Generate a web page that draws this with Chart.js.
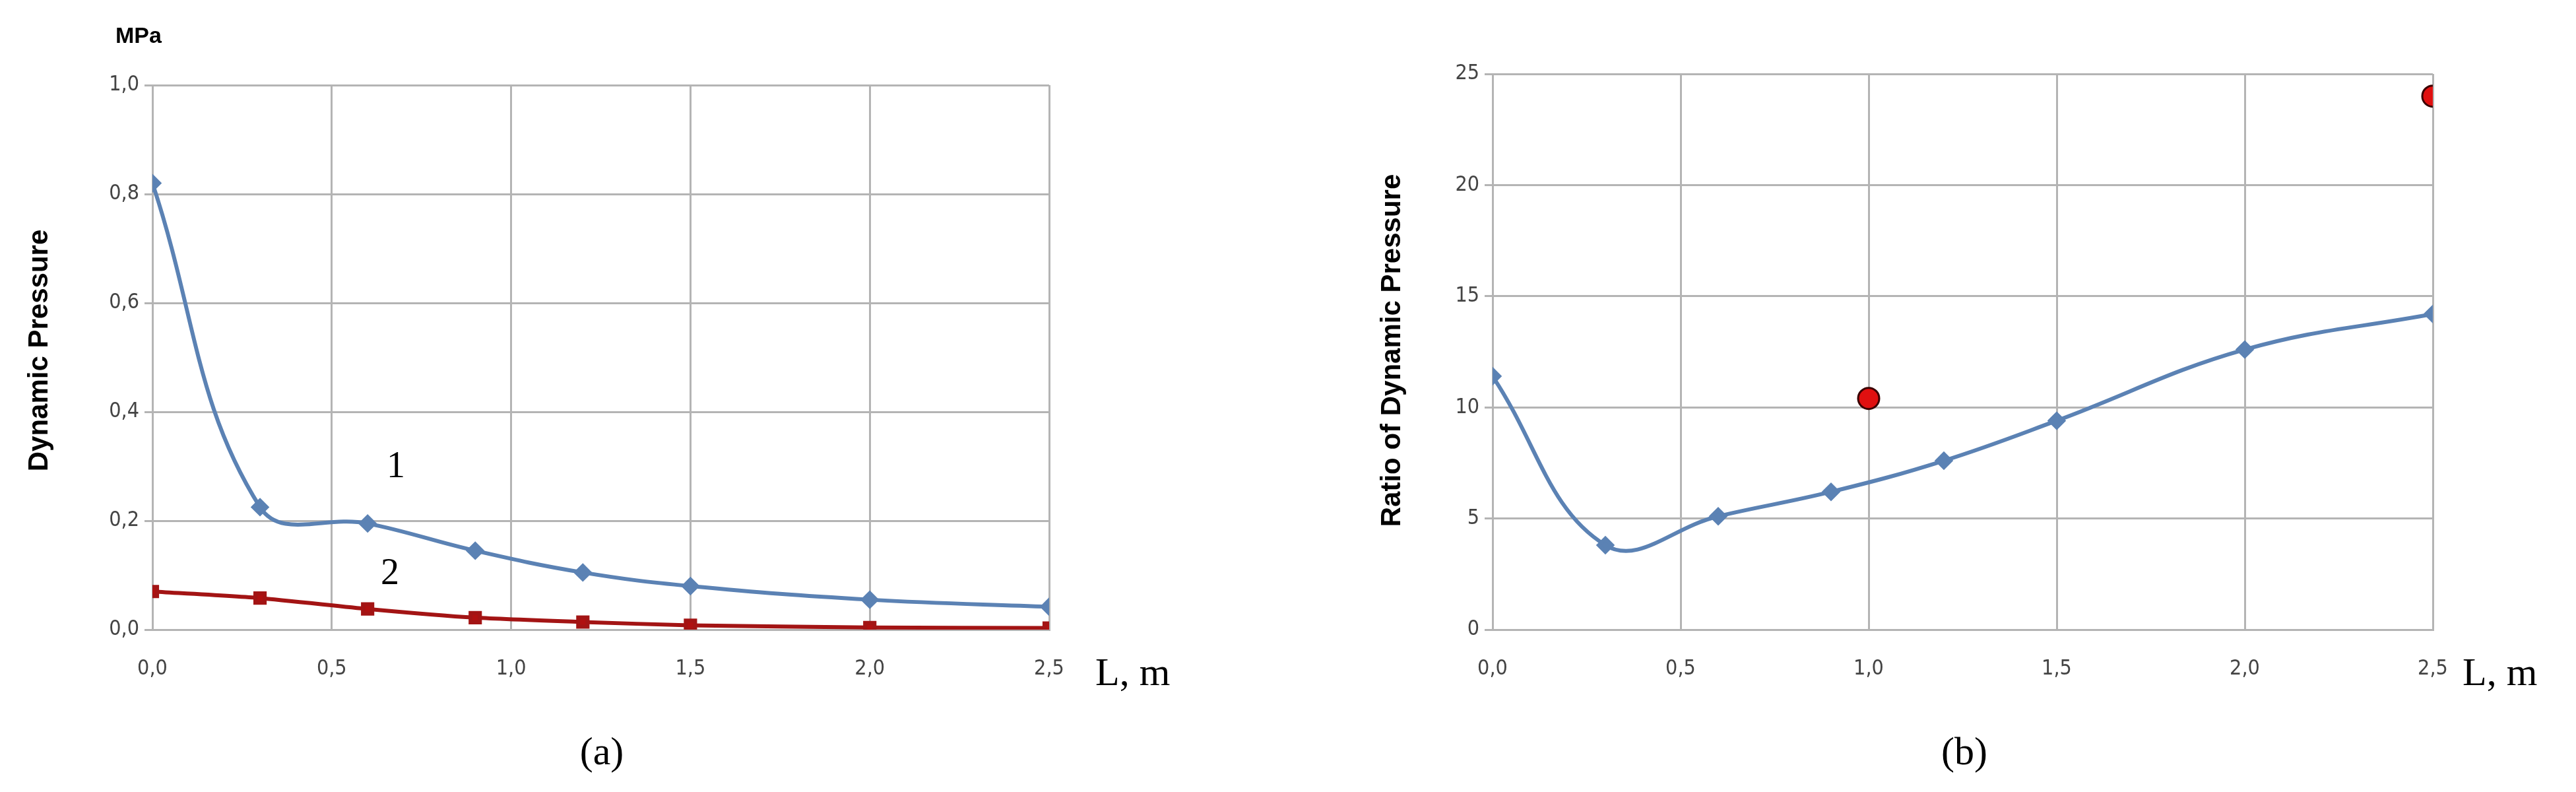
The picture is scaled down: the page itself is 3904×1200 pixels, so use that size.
<!DOCTYPE html>
<html><head><meta charset="utf-8">
<script src="https://cdn.jsdelivr.net/npm/chart.js@4.4.0/dist/chart.umd.min.js"></script>
<style>
body{margin:0;background:#fff;width:3904px;height:1200px;position:relative;overflow:hidden}
canvas{position:absolute;top:0}
</style></head><body>
<canvas id="ca" width="1800" height="1200" style="left:0"></canvas>
<canvas id="cb" width="1900" height="1200" style="left:1952px"></canvas>
<script>
const xL = [0, 0.3, 0.6, 0.9, 1.2, 1.5, 2.0, 2.5];
const pressure1 = [0.82, 0.225, 0.195, 0.145, 0.105, 0.08, 0.055, 0.042];
const pressure2 = [0.07, 0.058, 0.038, 0.022, 0.014, 0.008, 0.004, 0.003];
const ratio = [11.4, 3.8, 5.1, 6.2, 7.6, 9.4, 12.6, 14.2];
const ratioPtsX = [1.0, 2.5];
const ratioPtsY = [10.4, 24];

const comma = v => v.toFixed(1).replace('.', ',');
const grid = '#b4b4b4';
const tickFont = {family: 'DejaVu Sans Condensed', size: 32};

function pts(xs, ys) { return xs.map((x, i) => ({x: x, y: ys[i]})); }

function scales(yMax, yStep, yFmt, yWidth) {
  return {
    x: {type: 'linear', min: 0, max: 2.5,
      ticks: {stepSize: 0.5, callback: comma, font: tickFont, color: '#444', padding: 40},
      grid: {color: grid, lineWidth: 3, tickLength: 0},
      border: {color: grid, width: 3},
      afterFit: s => { s.height = 246; }},
    y: {min: 0, max: yMax,
      ticks: {stepSize: yStep, callback: yFmt, font: tickFont, color: '#444', padding: 8},
      grid: {color: grid, lineWidth: 3, tickLength: 12},
      border: {color: grid, width: 3},
      afterFit: s => { s.width = yWidth; }}
  };
}

function textPlugin(items) {
  return {id: 'txt', afterDraw(c) {
    const g = c.ctx;
    items.forEach(t => {
      g.save();
      g.font = t.font; g.fillStyle = t.color || '#000';
      g.textAlign = t.align || 'center'; g.textBaseline = 'middle';
      g.translate(t.x, t.y);
      if (t.rot) g.rotate(t.rot);
      g.fillText(t.text, 0, 0);
      g.restore();
    });
  }};
}

new Chart(document.getElementById('ca'), {
  type: 'line',
  data: {datasets: [
    {data: pts(xL, pressure1), borderColor: '#5b82b4', backgroundColor: '#5b82b4',
     borderWidth: 6, tension: 0.4, pointStyle: 'rectRot', pointRadius: 10},
    {data: pts(xL, pressure2), borderColor: '#a31414', backgroundColor: '#b01010',
     borderWidth: 6, tension: 0.2, pointStyle: 'rect', pointRadius: 10}
  ]},
  options: {responsive: false, animation: false, devicePixelRatio: 1,
    layout: {padding: {top: 129, right: 210, left: 0, bottom: 0}},
    plugins: {legend: {display: false}, tooltip: {enabled: false}},
    scales: scales(1.0, 0.2, comma, 231)},
  plugins: [textPlugin([
    {text: 'MPa', x: 175, y: 56, font: 'bold 34px "Liberation Sans"', align: 'left'},
    {text: 'Dynamic Pressure', x: 60, y: 531, font: 'bold 42px "Liberation Sans"', rot: -Math.PI / 2},
    {text: 'L, m', x: 1660, y: 1022, font: '60px "Liberation Serif"', align: 'left'},
    {text: '1', x: 600, y: 708, font: '56px "Liberation Serif"'},
    {text: '2', x: 591, y: 870, font: '56px "Liberation Serif"'},
    {text: '(a)', x: 912, y: 1142, font: '60px "Liberation Serif"'}
  ])]
});

new Chart(document.getElementById('cb'), {
  type: 'line',
  data: {datasets: [
    {data: pts(xL, ratio), borderColor: '#5b82b4', backgroundColor: '#5b82b4',
     borderWidth: 6, tension: 0.4, pointStyle: 'rectRot', pointRadius: 10},
    {data: pts(ratioPtsX, ratioPtsY), showLine: false, backgroundColor: '#e01010',
     borderColor: '#3a0000', borderWidth: 3, pointRadius: 16}
  ]},
  options: {responsive: false, animation: false, devicePixelRatio: 1,
    layout: {padding: {top: 112, right: 165, left: 0, bottom: 0}},
    plugins: {legend: {display: false}, tooltip: {enabled: false}},
    scales: scales(25, 5, v => String(v), 310)},
  plugins: [textPlugin([
    {text: 'Ratio of Dynamic Pressure', x: 158, y: 531, font: 'bold 42px "Liberation Sans"', rot: -Math.PI / 2},
    {text: 'L, m', x: 1780, y: 1022, font: '60px "Liberation Serif"', align: 'left'},
    {text: '(b)', x: 1025, y: 1142, font: '60px "Liberation Serif"'}
  ])]
});
</script>
</body></html>
